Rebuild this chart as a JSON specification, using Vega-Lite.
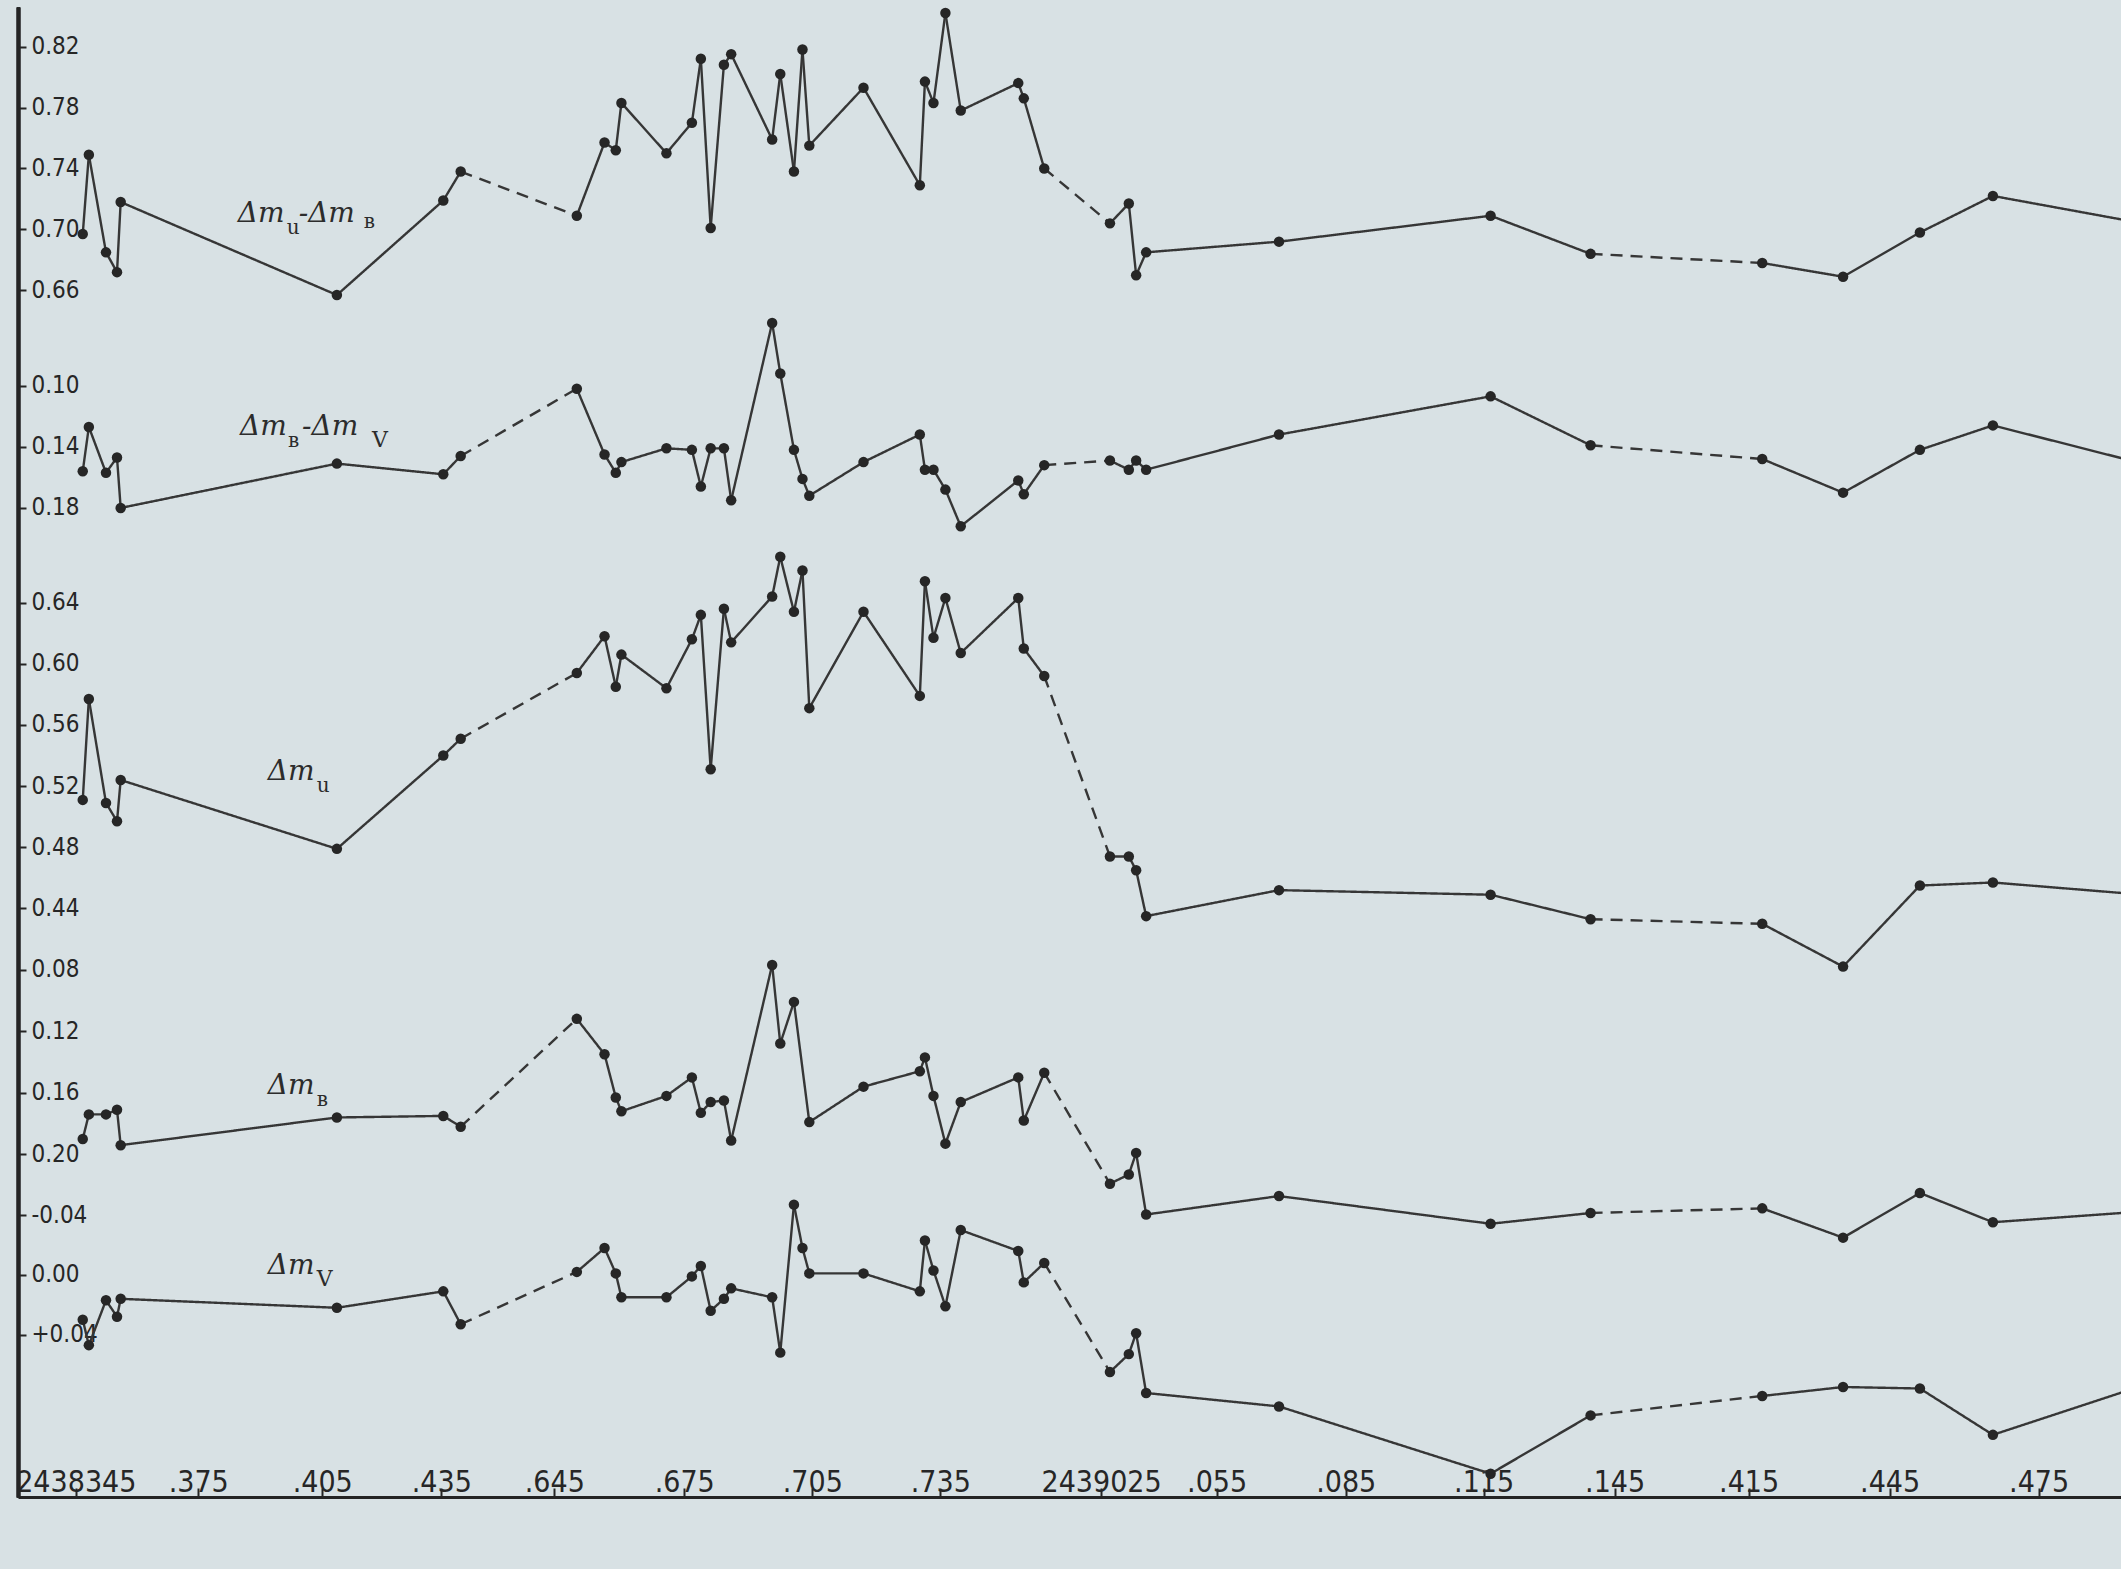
{
"$schema": "https://vega.github.io/schema/vega-lite/v6.json",
"width": 2103, "height": 1490,
"autosize": {"type": "none"},
"padding": {"left": 18, "top": 7, "right": 0, "bottom": 72},
"background": "#d8e1e4",
"config": {
 "view": {"stroke": null},
 "axis": {"grid": false, "domainColor": "#242424", "tickColor": "#242424", "labelColor": "#262626", "labelFont": "Liberation Sans Narrow, DejaVu Sans Condensed, sans-serif", "labelOverlap": false, "labelFlush": false, "labelBound": false},
 "axisY": {"domainWidth": 3.5, "tickSize": -8, "tickWidth": 2, "labelPadding": -5, "labelAlign": "left", "labelBaseline": "middle", "labelFontSize": 24},
 "axisX": {"domainWidth": 3, "tickSize": -9, "tickWidth": 2, "labelPadding": 3, "labelBaseline": "alphabetic", "labelFontSize": 30}
},
"datasets": {
 "pts": [
{"panel":"UB","seg":"a","jd":2438346.7,"v":0.697},{"panel":"UB","seg":"a","jd":2438348.2,"v":0.749},{"panel":"UB","seg":"a","jd":2438352.4,"v":0.685},{"panel":"UB","seg":"a","jd":2438355.1,"v":0.672},{"panel":"UB","seg":"a","jd":2438356.0,"v":0.718},{"panel":"UB","seg":"a","jd":2438408.7,"v":0.657},{"panel":"UB","seg":"a","jd":2438435.5,"v":0.719},{"panel":"UB","seg":"a","jd":2438439.9,"v":0.738},
{"panel":"UB","seg":"b","jd":2438650.2,"v":0.709},{"panel":"UB","seg":"b","jd":2438656.6,"v":0.757},{"panel":"UB","seg":"b","jd":2438659.2,"v":0.752},{"panel":"UB","seg":"b","jd":2438660.5,"v":0.783},{"panel":"UB","seg":"b","jd":2438670.9,"v":0.750},{"panel":"UB","seg":"b","jd":2438676.8,"v":0.770},{"panel":"UB","seg":"b","jd":2438678.9,"v":0.812},{"panel":"UB","seg":"b","jd":2438681.2,"v":0.701},{"panel":"UB","seg":"b","jd":2438684.3,"v":0.808},{"panel":"UB","seg":"b","jd":2438686.0,"v":0.815},{"panel":"UB","seg":"b","jd":2438695.6,"v":0.759},{"panel":"UB","seg":"b","jd":2438697.5,"v":0.802},{"panel":"UB","seg":"b","jd":2438700.7,"v":0.738},{"panel":"UB","seg":"b","jd":2438702.7,"v":0.818},{"panel":"UB","seg":"b","jd":2438704.3,"v":0.755},{"panel":"UB","seg":"b","jd":2438717.0,"v":0.793},{"panel":"UB","seg":"b","jd":2438730.2,"v":0.729},{"panel":"UB","seg":"b","jd":2438731.4,"v":0.797},{"panel":"UB","seg":"b","jd":2438733.4,"v":0.783},{"panel":"UB","seg":"b","jd":2438736.2,"v":0.842},{"panel":"UB","seg":"b","jd":2438739.8,"v":0.778},{"panel":"UB","seg":"b","jd":2438753.3,"v":0.796},{"panel":"UB","seg":"b","jd":2438754.6,"v":0.786},{"panel":"UB","seg":"b","jd":2438759.4,"v":0.740},
{"panel":"UB","seg":"c","jd":2439027.3,"v":0.704},{"panel":"UB","seg":"c","jd":2439032.2,"v":0.717},{"panel":"UB","seg":"c","jd":2439034.1,"v":0.670},{"panel":"UB","seg":"c","jd":2439036.7,"v":0.685},{"panel":"UB","seg":"c","jd":2439069.5,"v":0.692},{"panel":"UB","seg":"c","jd":2439116.6,"v":0.709},{"panel":"UB","seg":"c","jd":2439139.5,"v":0.684},
{"panel":"UB","seg":"d","jd":2439417.9,"v":0.678},{"panel":"UB","seg":"d","jd":2439435.1,"v":0.669},{"panel":"UB","seg":"d","jd":2439451.1,"v":0.698},{"panel":"UB","seg":"d","jd":2439465.8,"v":0.722},{"panel":"UB","seg":"d","jd":2439496.0,"v":0.704},

{"panel":"BV","seg":"a","jd":2438346.7,"v":0.156},{"panel":"BV","seg":"a","jd":2438348.2,"v":0.127},{"panel":"BV","seg":"a","jd":2438352.4,"v":0.157},{"panel":"BV","seg":"a","jd":2438355.1,"v":0.147},{"panel":"BV","seg":"a","jd":2438356.0,"v":0.180},{"panel":"BV","seg":"a","jd":2438408.7,"v":0.151},{"panel":"BV","seg":"a","jd":2438435.5,"v":0.158},{"panel":"BV","seg":"a","jd":2438439.9,"v":0.146},
{"panel":"BV","seg":"b","jd":2438650.2,"v":0.102},{"panel":"BV","seg":"b","jd":2438656.6,"v":0.145},{"panel":"BV","seg":"b","jd":2438659.2,"v":0.157},{"panel":"BV","seg":"b","jd":2438660.5,"v":0.150},{"panel":"BV","seg":"b","jd":2438670.9,"v":0.141},{"panel":"BV","seg":"b","jd":2438676.8,"v":0.142},{"panel":"BV","seg":"b","jd":2438678.9,"v":0.166},{"panel":"BV","seg":"b","jd":2438681.2,"v":0.141},{"panel":"BV","seg":"b","jd":2438684.3,"v":0.141},{"panel":"BV","seg":"b","jd":2438686.0,"v":0.175},{"panel":"BV","seg":"b","jd":2438695.6,"v":0.059},{"panel":"BV","seg":"b","jd":2438697.5,"v":0.092},{"panel":"BV","seg":"b","jd":2438700.7,"v":0.142},{"panel":"BV","seg":"b","jd":2438702.7,"v":0.161},{"panel":"BV","seg":"b","jd":2438704.3,"v":0.172},{"panel":"BV","seg":"b","jd":2438717.0,"v":0.150},{"panel":"BV","seg":"b","jd":2438730.2,"v":0.132},{"panel":"BV","seg":"b","jd":2438731.4,"v":0.155},{"panel":"BV","seg":"b","jd":2438733.4,"v":0.155},{"panel":"BV","seg":"b","jd":2438736.2,"v":0.168},{"panel":"BV","seg":"b","jd":2438739.8,"v":0.192},{"panel":"BV","seg":"b","jd":2438753.3,"v":0.162},{"panel":"BV","seg":"b","jd":2438754.6,"v":0.171},{"panel":"BV","seg":"b","jd":2438759.4,"v":0.152},
{"panel":"BV","seg":"c","jd":2439027.3,"v":0.149},{"panel":"BV","seg":"c","jd":2439032.2,"v":0.155},{"panel":"BV","seg":"c","jd":2439034.1,"v":0.149},{"panel":"BV","seg":"c","jd":2439036.7,"v":0.155},{"panel":"BV","seg":"c","jd":2439069.5,"v":0.132},{"panel":"BV","seg":"c","jd":2439116.6,"v":0.107},{"panel":"BV","seg":"c","jd":2439139.5,"v":0.139},
{"panel":"BV","seg":"d","jd":2439417.9,"v":0.148},{"panel":"BV","seg":"d","jd":2439435.1,"v":0.170},{"panel":"BV","seg":"d","jd":2439451.1,"v":0.142},{"panel":"BV","seg":"d","jd":2439465.8,"v":0.126},{"panel":"BV","seg":"d","jd":2439496.0,"v":0.151},

{"panel":"U","seg":"a","jd":2438346.7,"v":0.511},{"panel":"U","seg":"a","jd":2438348.2,"v":0.577},{"panel":"U","seg":"a","jd":2438352.4,"v":0.509},{"panel":"U","seg":"a","jd":2438355.1,"v":0.497},{"panel":"U","seg":"a","jd":2438356.0,"v":0.524},{"panel":"U","seg":"a","jd":2438408.7,"v":0.479},{"panel":"U","seg":"a","jd":2438435.5,"v":0.540},{"panel":"U","seg":"a","jd":2438439.9,"v":0.551},
{"panel":"U","seg":"b","jd":2438650.2,"v":0.594},{"panel":"U","seg":"b","jd":2438656.6,"v":0.618},{"panel":"U","seg":"b","jd":2438659.2,"v":0.585},{"panel":"U","seg":"b","jd":2438660.5,"v":0.606},{"panel":"U","seg":"b","jd":2438670.9,"v":0.584},{"panel":"U","seg":"b","jd":2438676.8,"v":0.616},{"panel":"U","seg":"b","jd":2438678.9,"v":0.632},{"panel":"U","seg":"b","jd":2438681.2,"v":0.531},{"panel":"U","seg":"b","jd":2438684.3,"v":0.636},{"panel":"U","seg":"b","jd":2438686.0,"v":0.614},{"panel":"U","seg":"b","jd":2438695.6,"v":0.644},{"panel":"U","seg":"b","jd":2438697.5,"v":0.670},{"panel":"U","seg":"b","jd":2438700.7,"v":0.634},{"panel":"U","seg":"b","jd":2438702.7,"v":0.661},{"panel":"U","seg":"b","jd":2438704.3,"v":0.571},{"panel":"U","seg":"b","jd":2438717.0,"v":0.634},{"panel":"U","seg":"b","jd":2438730.2,"v":0.579},{"panel":"U","seg":"b","jd":2438731.4,"v":0.654},{"panel":"U","seg":"b","jd":2438733.4,"v":0.617},{"panel":"U","seg":"b","jd":2438736.2,"v":0.643},{"panel":"U","seg":"b","jd":2438739.8,"v":0.607},{"panel":"U","seg":"b","jd":2438753.3,"v":0.643},{"panel":"U","seg":"b","jd":2438754.6,"v":0.610},{"panel":"U","seg":"b","jd":2438759.4,"v":0.592},
{"panel":"U","seg":"c","jd":2439027.3,"v":0.474},{"panel":"U","seg":"c","jd":2439032.2,"v":0.474},{"panel":"U","seg":"c","jd":2439034.1,"v":0.465},{"panel":"U","seg":"c","jd":2439036.7,"v":0.435},{"panel":"U","seg":"c","jd":2439069.5,"v":0.452},{"panel":"U","seg":"c","jd":2439116.6,"v":0.449},{"panel":"U","seg":"c","jd":2439139.5,"v":0.433},
{"panel":"U","seg":"d","jd":2439417.9,"v":0.430},{"panel":"U","seg":"d","jd":2439435.1,"v":0.402},{"panel":"U","seg":"d","jd":2439451.1,"v":0.455},{"panel":"U","seg":"d","jd":2439465.8,"v":0.457},{"panel":"U","seg":"d","jd":2439496.0,"v":0.449},

{"panel":"B","seg":"a","jd":2438346.7,"v":0.190},{"panel":"B","seg":"a","jd":2438348.2,"v":0.174},{"panel":"B","seg":"a","jd":2438352.4,"v":0.174},{"panel":"B","seg":"a","jd":2438355.1,"v":0.171},{"panel":"B","seg":"a","jd":2438356.0,"v":0.194},{"panel":"B","seg":"a","jd":2438408.7,"v":0.176},{"panel":"B","seg":"a","jd":2438435.5,"v":0.175},{"panel":"B","seg":"a","jd":2438439.9,"v":0.182},
{"panel":"B","seg":"b","jd":2438650.2,"v":0.112},{"panel":"B","seg":"b","jd":2438656.6,"v":0.135},{"panel":"B","seg":"b","jd":2438659.2,"v":0.163},{"panel":"B","seg":"b","jd":2438660.5,"v":0.172},{"panel":"B","seg":"b","jd":2438670.9,"v":0.162},{"panel":"B","seg":"b","jd":2438676.8,"v":0.150},{"panel":"B","seg":"b","jd":2438678.9,"v":0.173},{"panel":"B","seg":"b","jd":2438681.2,"v":0.166},{"panel":"B","seg":"b","jd":2438684.3,"v":0.165},{"panel":"B","seg":"b","jd":2438686.0,"v":0.191},{"panel":"B","seg":"b","jd":2438695.6,"v":0.077},{"panel":"B","seg":"b","jd":2438697.5,"v":0.128},{"panel":"B","seg":"b","jd":2438700.7,"v":0.101},{"panel":"B","seg":"b","jd":2438704.3,"v":0.179},{"panel":"B","seg":"b","jd":2438717.0,"v":0.156},{"panel":"B","seg":"b","jd":2438730.2,"v":0.146},{"panel":"B","seg":"b","jd":2438731.4,"v":0.137},{"panel":"B","seg":"b","jd":2438733.4,"v":0.162},{"panel":"B","seg":"b","jd":2438736.2,"v":0.193},{"panel":"B","seg":"b","jd":2438739.8,"v":0.166},{"panel":"B","seg":"b","jd":2438753.3,"v":0.150},{"panel":"B","seg":"b","jd":2438754.6,"v":0.178},{"panel":"B","seg":"b","jd":2438759.4,"v":0.147},
{"panel":"B","seg":"c","jd":2439027.3,"v":0.219},{"panel":"B","seg":"c","jd":2439032.2,"v":0.213},{"panel":"B","seg":"c","jd":2439034.1,"v":0.199},{"panel":"B","seg":"c","jd":2439036.7,"v":0.239},{"panel":"B","seg":"c","jd":2439069.5,"v":0.227},{"panel":"B","seg":"c","jd":2439116.6,"v":0.245},{"panel":"B","seg":"c","jd":2439139.5,"v":0.238},
{"panel":"B","seg":"d","jd":2439417.9,"v":0.235},{"panel":"B","seg":"d","jd":2439435.1,"v":0.254},{"panel":"B","seg":"d","jd":2439451.1,"v":0.225},{"panel":"B","seg":"d","jd":2439465.8,"v":0.244},{"panel":"B","seg":"d","jd":2439496.0,"v":0.237},

{"panel":"V","seg":"a","jd":2438346.7,"v":0.030},{"panel":"V","seg":"a","jd":2438348.2,"v":0.047},{"panel":"V","seg":"a","jd":2438352.4,"v":0.017},{"panel":"V","seg":"a","jd":2438355.1,"v":0.028},{"panel":"V","seg":"a","jd":2438356.0,"v":0.016},{"panel":"V","seg":"a","jd":2438408.7,"v":0.022},{"panel":"V","seg":"a","jd":2438435.5,"v":0.011},{"panel":"V","seg":"a","jd":2438439.9,"v":0.033},
{"panel":"V","seg":"b","jd":2438650.2,"v":-0.002},{"panel":"V","seg":"b","jd":2438656.6,"v":-0.018},{"panel":"V","seg":"b","jd":2438659.2,"v":-0.001},{"panel":"V","seg":"b","jd":2438660.5,"v":0.015},{"panel":"V","seg":"b","jd":2438670.9,"v":0.015},{"panel":"V","seg":"b","jd":2438676.8,"v":0.001},{"panel":"V","seg":"b","jd":2438678.9,"v":-0.006},{"panel":"V","seg":"b","jd":2438681.2,"v":0.024},{"panel":"V","seg":"b","jd":2438684.3,"v":0.016},{"panel":"V","seg":"b","jd":2438686.0,"v":0.009},{"panel":"V","seg":"b","jd":2438695.6,"v":0.015},{"panel":"V","seg":"b","jd":2438697.5,"v":0.052},{"panel":"V","seg":"b","jd":2438700.7,"v":-0.047},{"panel":"V","seg":"b","jd":2438702.7,"v":-0.018},{"panel":"V","seg":"b","jd":2438704.3,"v":-0.001},{"panel":"V","seg":"b","jd":2438717.0,"v":-0.001},{"panel":"V","seg":"b","jd":2438730.2,"v":0.011},{"panel":"V","seg":"b","jd":2438731.4,"v":-0.023},{"panel":"V","seg":"b","jd":2438733.4,"v":-0.003},{"panel":"V","seg":"b","jd":2438736.2,"v":0.021},{"panel":"V","seg":"b","jd":2438739.8,"v":-0.030},{"panel":"V","seg":"b","jd":2438753.3,"v":-0.016},{"panel":"V","seg":"b","jd":2438754.6,"v":0.005},{"panel":"V","seg":"b","jd":2438759.4,"v":-0.008},
{"panel":"V","seg":"c","jd":2439027.3,"v":0.065},{"panel":"V","seg":"c","jd":2439032.2,"v":0.053},{"panel":"V","seg":"c","jd":2439034.1,"v":0.039},{"panel":"V","seg":"c","jd":2439036.7,"v":0.079},{"panel":"V","seg":"c","jd":2439069.5,"v":0.088},{"panel":"V","seg":"c","jd":2439116.6,"v":0.133},{"panel":"V","seg":"c","jd":2439139.5,"v":0.094},
{"panel":"V","seg":"d","jd":2439417.9,"v":0.081},{"panel":"V","seg":"d","jd":2439435.1,"v":0.075},{"panel":"V","seg":"d","jd":2439451.1,"v":0.076},{"panel":"V","seg":"d","jd":2439465.8,"v":0.107},{"panel":"V","seg":"d","jd":2439496.0,"v":0.074}
 ],
 "labels": [
  {"panel":"UB","jd":2438384.55,"v":0.7047,"m1":"Δm","s1":"u","m2":"-Δm","s2":"в"},
  {"panel":"BV","jd":2438385.1,"v":0.1323,"m1":"Δm","s1":"в","m2":"-Δm","s2":"V"},
  {"panel":"U","jd":2438391.85,"v":0.5237,"m1":"Δm","s1":"u"},
  {"panel":"B","jd":2438391.85,"v":0.161,"m1":"Δm","s1":"в"},
  {"panel":"V","jd":2438391.85,"v":-0.0005,"m1":"Δm","s1":"V"}
 ]
},
"encoding": {
 "x": {"field": "jd", "type": "quantitative",
  "scale": {"domain": [2438331.3, 2438345, 2438375, 2438405, 2438435, 2438445, 2438645, 2438675, 2438705, 2438735, 2438765, 2439025, 2439055, 2439085, 2439115, 2439145, 2439415, 2439445, 2439475, 2439491.6],
            "range": [0, 57.8, 180.2, 304.2, 423.3, 462.9, 536.3, 666.2, 794.3, 922.3, 1050.1, 1083.1, 1198.6, 1327.7, 1465.6, 1596.6, 1730.6, 1871.6, 2020.6, 2103], "nice": false, "zero": false},
  "axis": {"title": null, "values": [2438345, 2438375, 2438405, 2438435, 2438645, 2438675, 2438705, 2438735, 2439025, 2439055, 2439085, 2439115, 2439145, 2439415, 2439445, 2439475],
           "labelExpr": "(datum.value == 2438345 || datum.value == 2439025) ? format(datum.value, 'd') : '.' + substring(format(datum.value, 'd'), 4)"}}
},
"layer": [
 {"encoding": {"y": {"field": "v", "type": "quantitative", "scale": {"domain": [-0.13144, 0.84593], "nice": false, "zero": false}, "axis": {"orient": "left", "title": null, "values": [0.66, 0.70, 0.74, 0.78, 0.82], "format": ".2f"}}},
  "layer": [
   {"data": {"name": "pts"}, "transform": [{"filter": "datum.panel == 'UB'"}, {"window": [{"op": "lead", "field": "jd", "as": "jd2"}, {"op": "lead", "field": "v", "as": "v2"}, {"op": "lead", "field": "seg", "as": "seg2"}], "sort": [{"field": "jd", "order": "ascending"}]}, {"filter": "isValid(datum.jd2)"}],
    "mark": {"type": "rule", "clip": true, "color": "#363636", "strokeWidth": 2.4},
    "encoding": {"x2": {"field": "jd2"}, "y2": {"field": "v2"}, "strokeDash": {"condition": {"test": "datum.seg != datum.seg2", "value": [12, 8]}, "value": [1, 0]}}},
   {"data": {"name": "pts"}, "transform": [{"filter": "datum.panel == 'UB' && datum.jd < 2439491"}], "mark": {"type": "circle", "size": 110, "color": "#262626", "opacity": 1}},
   {"data": {"name": "labels"}, "transform": [{"filter": "datum.panel == 'UB'"}], "mark": {"type": "text", "align": "left", "baseline": "alphabetic", "font": "DejaVu Serif", "fontStyle": "italic", "fontSize": 28, "color": "#2c2c2c"}, "encoding": {"text": {"field": "m1"}}},
   {"data": {"name": "labels"}, "transform": [{"filter": "datum.panel == 'UB'"}], "mark": {"type": "text", "align": "left", "baseline": "alphabetic", "font": "DejaVu Serif", "fontSize": 20, "dx": 49, "dy": 12, "color": "#2c2c2c"}, "encoding": {"text": {"field": "s1"}}},
   {"data": {"name": "labels"}, "transform": [{"filter": "datum.panel == 'UB'"}], "mark": {"type": "text", "align": "left", "baseline": "alphabetic", "font": "DejaVu Serif", "fontStyle": "italic", "fontSize": 28, "dx": 61, "color": "#2c2c2c"}, "encoding": {"text": {"field": "m2"}}},
   {"data": {"name": "labels"}, "transform": [{"filter": "datum.panel == 'UB'"}], "mark": {"type": "text", "align": "left", "baseline": "alphabetic", "font": "DejaVu Serif", "fontSize": 20, "dx": 126, "dy": 6, "color": "#2c2c2c"}, "encoding": {"text": {"field": "s2"}}}
  ]},
 {"encoding": {"y": {"field": "v", "type": "quantitative", "scale": {"domain": [-0.14771, 0.82703], "reverse": true, "nice": false, "zero": false}, "axis": {"orient": "left", "title": null, "values": [0.10, 0.14, 0.18], "format": ".2f"}}},
  "layer": [
   {"data": {"name": "pts"}, "transform": [{"filter": "datum.panel == 'BV'"}, {"window": [{"op": "lead", "field": "jd", "as": "jd2"}, {"op": "lead", "field": "v", "as": "v2"}, {"op": "lead", "field": "seg", "as": "seg2"}], "sort": [{"field": "jd", "order": "ascending"}]}, {"filter": "isValid(datum.jd2)"}],
    "mark": {"type": "rule", "clip": true, "color": "#363636", "strokeWidth": 2.4},
    "encoding": {"x2": {"field": "jd2"}, "y2": {"field": "v2"}, "strokeDash": {"condition": {"test": "datum.seg != datum.seg2", "value": [12, 8]}, "value": [1, 0]}}},
   {"data": {"name": "pts"}, "transform": [{"filter": "datum.panel == 'BV' && datum.jd < 2439491"}], "mark": {"type": "circle", "size": 110, "color": "#262626", "opacity": 1}},
   {"data": {"name": "labels"}, "transform": [{"filter": "datum.panel == 'BV'"}], "mark": {"type": "text", "align": "left", "baseline": "alphabetic", "font": "DejaVu Serif", "fontStyle": "italic", "fontSize": 28, "color": "#2c2c2c"}, "encoding": {"text": {"field": "m1"}}},
   {"data": {"name": "labels"}, "transform": [{"filter": "datum.panel == 'BV'"}], "mark": {"type": "text", "align": "left", "baseline": "alphabetic", "font": "DejaVu Serif", "fontSize": 20, "dx": 48, "dy": 12, "color": "#2c2c2c"}, "encoding": {"text": {"field": "s1"}}},
   {"data": {"name": "labels"}, "transform": [{"filter": "datum.panel == 'BV'"}], "mark": {"type": "text", "align": "left", "baseline": "alphabetic", "font": "DejaVu Serif", "fontStyle": "italic", "fontSize": 28, "dx": 62, "color": "#2c2c2c"}, "encoding": {"text": {"field": "m2"}}},
   {"data": {"name": "labels"}, "transform": [{"filter": "datum.panel == 'BV'"}], "mark": {"type": "text", "align": "left", "baseline": "alphabetic", "font": "DejaVu Serif", "fontSize": 22, "dx": 132, "dy": 12, "color": "#2c2c2c"}, "encoding": {"text": {"field": "s2"}}}
  ]},
 {"encoding": {"y": {"field": "v", "type": "quantitative", "scale": {"domain": [0.0552, 1.02944], "nice": false, "zero": false}, "axis": {"orient": "left", "title": null, "values": [0.44, 0.48, 0.52, 0.56, 0.60, 0.64], "format": ".2f"}}},
  "layer": [
   {"data": {"name": "pts"}, "transform": [{"filter": "datum.panel == 'U'"}, {"window": [{"op": "lead", "field": "jd", "as": "jd2"}, {"op": "lead", "field": "v", "as": "v2"}, {"op": "lead", "field": "seg", "as": "seg2"}], "sort": [{"field": "jd", "order": "ascending"}]}, {"filter": "isValid(datum.jd2)"}],
    "mark": {"type": "rule", "clip": true, "color": "#363636", "strokeWidth": 2.4},
    "encoding": {"x2": {"field": "jd2"}, "y2": {"field": "v2"}, "strokeDash": {"condition": {"test": "datum.seg != datum.seg2", "value": [12, 8]}, "value": [1, 0]}}},
   {"data": {"name": "pts"}, "transform": [{"filter": "datum.panel == 'U' && datum.jd < 2439491"}], "mark": {"type": "circle", "size": 110, "color": "#262626", "opacity": 1}},
   {"data": {"name": "labels"}, "transform": [{"filter": "datum.panel == 'U'"}], "mark": {"type": "text", "align": "left", "baseline": "alphabetic", "font": "DejaVu Serif", "fontStyle": "italic", "fontSize": 28, "color": "#2c2c2c"}, "encoding": {"text": {"field": "m1"}}},
   {"data": {"name": "labels"}, "transform": [{"filter": "datum.panel == 'U'"}], "mark": {"type": "text", "align": "left", "baseline": "alphabetic", "font": "DejaVu Serif", "fontSize": 20, "dx": 49, "dy": 12, "color": "#2c2c2c"}, "encoding": {"text": {"field": "s1"}}}
  ]},
 {"encoding": {"y": {"field": "v", "type": "quantitative", "scale": {"domain": [-0.54475, 0.42234], "reverse": true, "nice": false, "zero": false}, "axis": {"orient": "left", "title": null, "values": [0.08, 0.12, 0.16, 0.20], "format": ".2f"}}},
  "layer": [
   {"data": {"name": "pts"}, "transform": [{"filter": "datum.panel == 'B'"}, {"window": [{"op": "lead", "field": "jd", "as": "jd2"}, {"op": "lead", "field": "v", "as": "v2"}, {"op": "lead", "field": "seg", "as": "seg2"}], "sort": [{"field": "jd", "order": "ascending"}]}, {"filter": "isValid(datum.jd2)"}],
    "mark": {"type": "rule", "clip": true, "color": "#363636", "strokeWidth": 2.4},
    "encoding": {"x2": {"field": "jd2"}, "y2": {"field": "v2"}, "strokeDash": {"condition": {"test": "datum.seg != datum.seg2", "value": [12, 8]}, "value": [1, 0]}}},
   {"data": {"name": "pts"}, "transform": [{"filter": "datum.panel == 'B' && datum.jd < 2439491"}], "mark": {"type": "circle", "size": 110, "color": "#262626", "opacity": 1}},
   {"data": {"name": "labels"}, "transform": [{"filter": "datum.panel == 'B'"}], "mark": {"type": "text", "align": "left", "baseline": "alphabetic", "font": "DejaVu Serif", "fontStyle": "italic", "fontSize": 28, "color": "#2c2c2c"}, "encoding": {"text": {"field": "m1"}}},
   {"data": {"name": "labels"}, "transform": [{"filter": "datum.panel == 'B'"}], "mark": {"type": "text", "align": "left", "baseline": "alphabetic", "font": "DejaVu Serif", "fontSize": 20, "dx": 49, "dy": 12, "color": "#2c2c2c"}, "encoding": {"text": {"field": "s1"}}}
  ]},
 {"encoding": {"y": {"field": "v", "type": "quantitative", "scale": {"domain": [-0.84827, 0.14859], "reverse": true, "nice": false, "zero": false}, "axis": {"orient": "left", "title": null, "values": [-0.04, 0, 0.04], "labelExpr": "datum.value > 0.001 ? '+' + format(datum.value, '.2f') : (datum.value < -0.001 ? '-' + format(-datum.value, '.2f') : '0.00')"}}},
  "layer": [
   {"data": {"name": "pts"}, "transform": [{"filter": "datum.panel == 'V'"}, {"window": [{"op": "lead", "field": "jd", "as": "jd2"}, {"op": "lead", "field": "v", "as": "v2"}, {"op": "lead", "field": "seg", "as": "seg2"}], "sort": [{"field": "jd", "order": "ascending"}]}, {"filter": "isValid(datum.jd2)"}],
    "mark": {"type": "rule", "clip": true, "color": "#363636", "strokeWidth": 2.4},
    "encoding": {"x2": {"field": "jd2"}, "y2": {"field": "v2"}, "strokeDash": {"condition": {"test": "datum.seg != datum.seg2", "value": [12, 8]}, "value": [1, 0]}}},
   {"data": {"name": "pts"}, "transform": [{"filter": "datum.panel == 'V' && datum.jd < 2439491"}], "mark": {"type": "circle", "size": 110, "color": "#262626", "opacity": 1}},
   {"data": {"name": "labels"}, "transform": [{"filter": "datum.panel == 'V'"}], "mark": {"type": "text", "align": "left", "baseline": "alphabetic", "font": "DejaVu Serif", "fontStyle": "italic", "fontSize": 28, "color": "#2c2c2c"}, "encoding": {"text": {"field": "m1"}}},
   {"data": {"name": "labels"}, "transform": [{"filter": "datum.panel == 'V'"}], "mark": {"type": "text", "align": "left", "baseline": "alphabetic", "font": "DejaVu Serif", "fontSize": 22, "dx": 49, "dy": 12, "color": "#2c2c2c"}, "encoding": {"text": {"field": "s1"}}}
  ]}
],
"resolve": {"scale": {"y": "independent"}, "axis": {"y": "independent"}}
}
